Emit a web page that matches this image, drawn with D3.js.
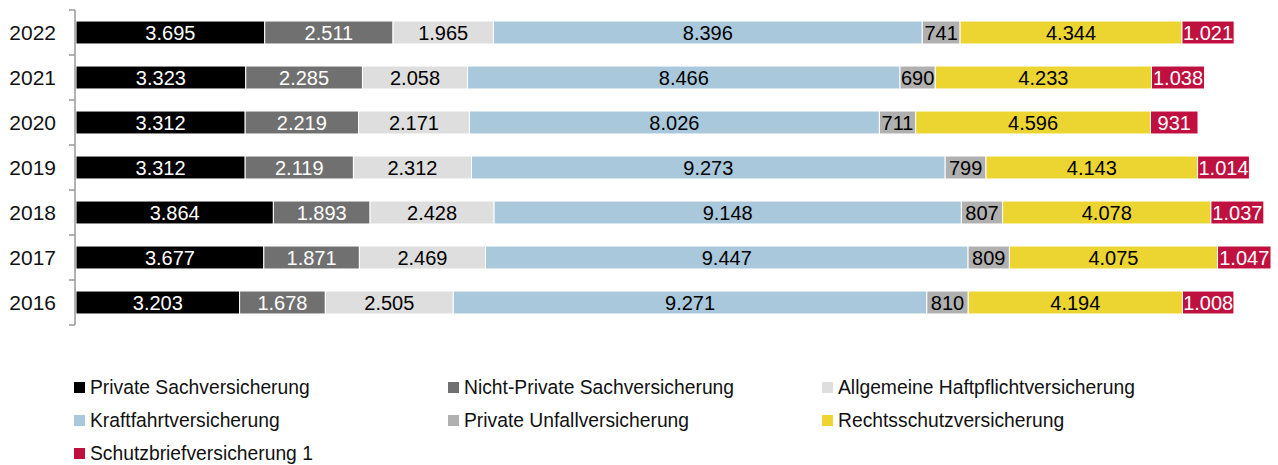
<!DOCTYPE html>
<html>
<head>
<meta charset="utf-8">
<script src="https://cdn.jsdelivr.net/npm/d3@7"></script>
<style>
  body { margin: 0; background: #fff; }
  svg text { font-family: "Liberation Sans", Arial, sans-serif; }
</style>
</head>
<body>
<div id="chart"></div>
<script>
var years = ['2022', '2021', '2020', '2019', '2018', '2017', '2016']
var seriesNames = ['Private Sachversicherung', 'Nicht-Private Sachversicherung', 'Allgemeine Haftpflichtversicherung',
  'Kraftfahrtversicherung', 'Private Unfallversicherung', 'Rechtsschutzversicherung', 'Schutzbriefversicherung 1']
var privateSach    = [3695, 3323, 3312, 3312, 3864, 3677, 3203]
var nichtPrivSach  = [2511, 2285, 2219, 2119, 1893, 1871, 1678]
var haftpflicht    = [1965, 2058, 2171, 2312, 2428, 2469, 2505]
var kraftfahrt     = [8396, 8466, 8026, 9273, 9148, 9447, 9271]
var unfall         = [741, 690, 711, 799, 807, 809, 810]
var rechtsschutz   = [4344, 4233, 4596, 4143, 4078, 4075, 4194]
var schutzbrief    = [1021, 1038, 931, 1014, 1037, 1047, 1008]

var colors = ['#000000', '#707070', '#dedede', '#a9c8dc', '#b0b0b0', '#ecd531', '#c0103f']
var labelColors = ['#fff', '#fff', '#000', '#000', '#000', '#000', '#fff']

var width = 1278, height = 465

var allSeries = [privateSach, nichtPrivSach, haftpflicht, kraftfahrt, unfall, rechtsschutz, schutzbrief]
var rows = years.map(function(y, i) {
  var r = {year: y}
  seriesNames.forEach(function(s, j) { r[s] = allSeries[j][i] })
  return r
})
var stacked = d3.stack().keys(seriesNames)(rows)

var svg = d3.select('#chart').append('svg')
  .attr('width', width).attr('height', height)

var x = d3.scaleLinear().domain([0, 25000]).range([76, 1353])
var y = d3.scaleBand().domain(years).range([10, 325]).paddingInner(0.49).paddingOuter(0.245)

var fmt = d3.format(',d')
var de = function(v) { return fmt(v).replace(/,/g, '.') }

var layers = svg.selectAll('g.layer').data(stacked).enter().append('g')
  .attr('class', 'layer')

layers.each(function(layer, li) {
  var g = d3.select(this)
  g.selectAll('rect').data(layer).enter().append('rect')
    .attr('x', function(d) { return x(d[0]) })
    .attr('y', function(d) { return y(d.data.year) })
    .attr('width', function(d) { return x(d[1]) - x(d[0]) })
    .attr('height', y.bandwidth())
    .attr('fill', colors[li])
    .attr('stroke', '#fff').attr('stroke-width', 1)
})

layers.each(function(layer, li) {
  d3.select(this).selectAll('text').data(layer).enter().append('text')
    .attr('x', function(d) { return (x(d[0]) + x(d[1])) / 2 })
    .attr('y', function(d) { return y(d.data.year) + y.bandwidth() / 2 })
    .attr('dy', '0.36em')
    .attr('text-anchor', 'middle')
    .attr('font-size', 20)
    .attr('fill', labelColors[li])
    .text(function(d) { return de(d[1] - d[0]) })
})

// y axis, ticks sit between the bands
var axisG = svg.append('g')
axisG.append('line').attr('x1', 75).attr('x2', 75).attr('y1', 10).attr('y2', 325)
  .attr('stroke', '#999').attr('stroke-width', 1.5)
var tickYs = years.map(function(yr) { return y(yr) - y.step() * y.paddingInner() / 2 })
tickYs.push(325)
axisG.selectAll('line.tick').data(tickYs).enter().append('line')
  .attr('x1', 69).attr('x2', 75)
  .attr('y1', function(d) { return d }).attr('y2', function(d) { return d })
  .attr('stroke', '#999').attr('stroke-width', 1.5)
axisG.selectAll('text').data(years).enter().append('text')
  .attr('x', 56).attr('text-anchor', 'end')
  .attr('y', function(d) { return y(d) + y.bandwidth() / 2 })
  .attr('dy', '0.36em').attr('font-size', 21).attr('fill', '#111')
  .text(function(d) { return d })

// legend
var legendCols = [74, 448, 822], legendRows = [387, 420, 453]
var leg = svg.selectAll('g.leg').data(seriesNames).enter().append('g')
  .attr('transform', function(d, i) {
    return 'translate(' + legendCols[i % 3] + ',' + legendRows[Math.floor(i / 3)] + ')'
  })
leg.append('rect').attr('x', 0).attr('y', -5).attr('width', 11).attr('height', 11)
  .attr('fill', function(d, i) { return colors[i] })
leg.append('text').attr('x', 16).attr('dy', '0.36em').attr('font-size', 19.3).attr('fill', '#111')
  .text(function(d) { return d })
</script>
</body>
</html>
